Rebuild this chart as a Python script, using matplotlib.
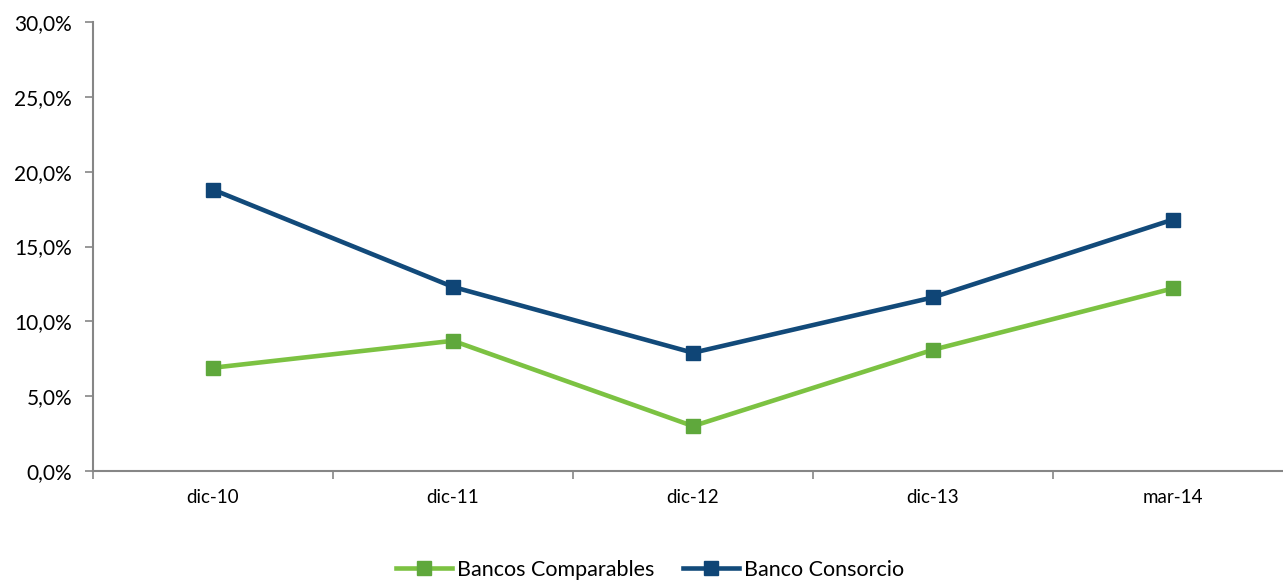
import numpy as np
import matplotlib
matplotlib.use('Agg')
import matplotlib.pyplot as plt
from matplotlib.ticker import FuncFormatter, FixedLocator

periods = ['dic-10', 'dic-11', 'dic-12', 'dic-13', 'mar-14']
comparables = [6.9, 8.7, 3.0, 8.1, 12.2]
consorcio = [18.8, 12.3, 7.9, 11.6, 16.8]

GREEN = '#7CC242'
GREEN_MK = '#5FA83C'
BLUE = '#124A7A'
BLUE_MK = '#0F4576'
AXIS = '#868686'

plt.rcParams['font.family'] = ['Lato', 'DejaVu Sans']

W, H = 1283, 580
fig = plt.figure(figsize=(W / 100, H / 100), dpi=100)
# plot area runs past the right edge of the figure
ax = fig.add_axes([93 / W, (H - 471) / H, 1200 / W, 449 / H])

x = np.arange(len(periods))
ax.plot(x, comparables, color=GREEN, lw=3.3, marker='s', ms=9.5,
        mfc=GREEN_MK, mec=GREEN_MK, label='Bancos Comparables', clip_on=False)
ax.plot(x, consorcio, color=BLUE, lw=3.3, marker='s', ms=9.5,
        mfc=BLUE_MK, mec=BLUE_MK, label='Banco Consorcio', clip_on=False)

ax.set_xlim(-0.5, len(periods) - 0.5)
ax.set_ylim(0, 30)
ax.set_yticks(np.arange(0, 31, 5))
ax.yaxis.set_major_formatter(FuncFormatter(lambda v, p: f'{v:.1f}%'.replace('.', ',')))

ax.set_xticks(x)
ax.set_xticklabels(periods)
ax.xaxis.set_minor_locator(FixedLocator(np.arange(-0.5, len(periods), 1.0)))
ax.tick_params(axis='x', which='major', length=0, pad=13, labelsize=13.5)
ax.tick_params(axis='x', which='minor', length=6, width=1.2, color=AXIS)
ax.tick_params(axis='y', length=6, width=1.2, color=AXIS, labelsize=15, pad=9)

for side in ['top', 'right']:
    ax.spines[side].set_visible(False)
for side in ['left', 'bottom']:
    ax.spines[side].set_color(AXIS)
    ax.spines[side].set_linewidth(1.5)

fig.legend(loc='center', bbox_to_anchor=(650 / W, (H - 570) / H), ncol=2,
           frameon=False, fontsize=15.5, handlelength=2.6, handletextpad=0.25,
           columnspacing=1.3)

fig.savefig('out.png', dpi=100)
